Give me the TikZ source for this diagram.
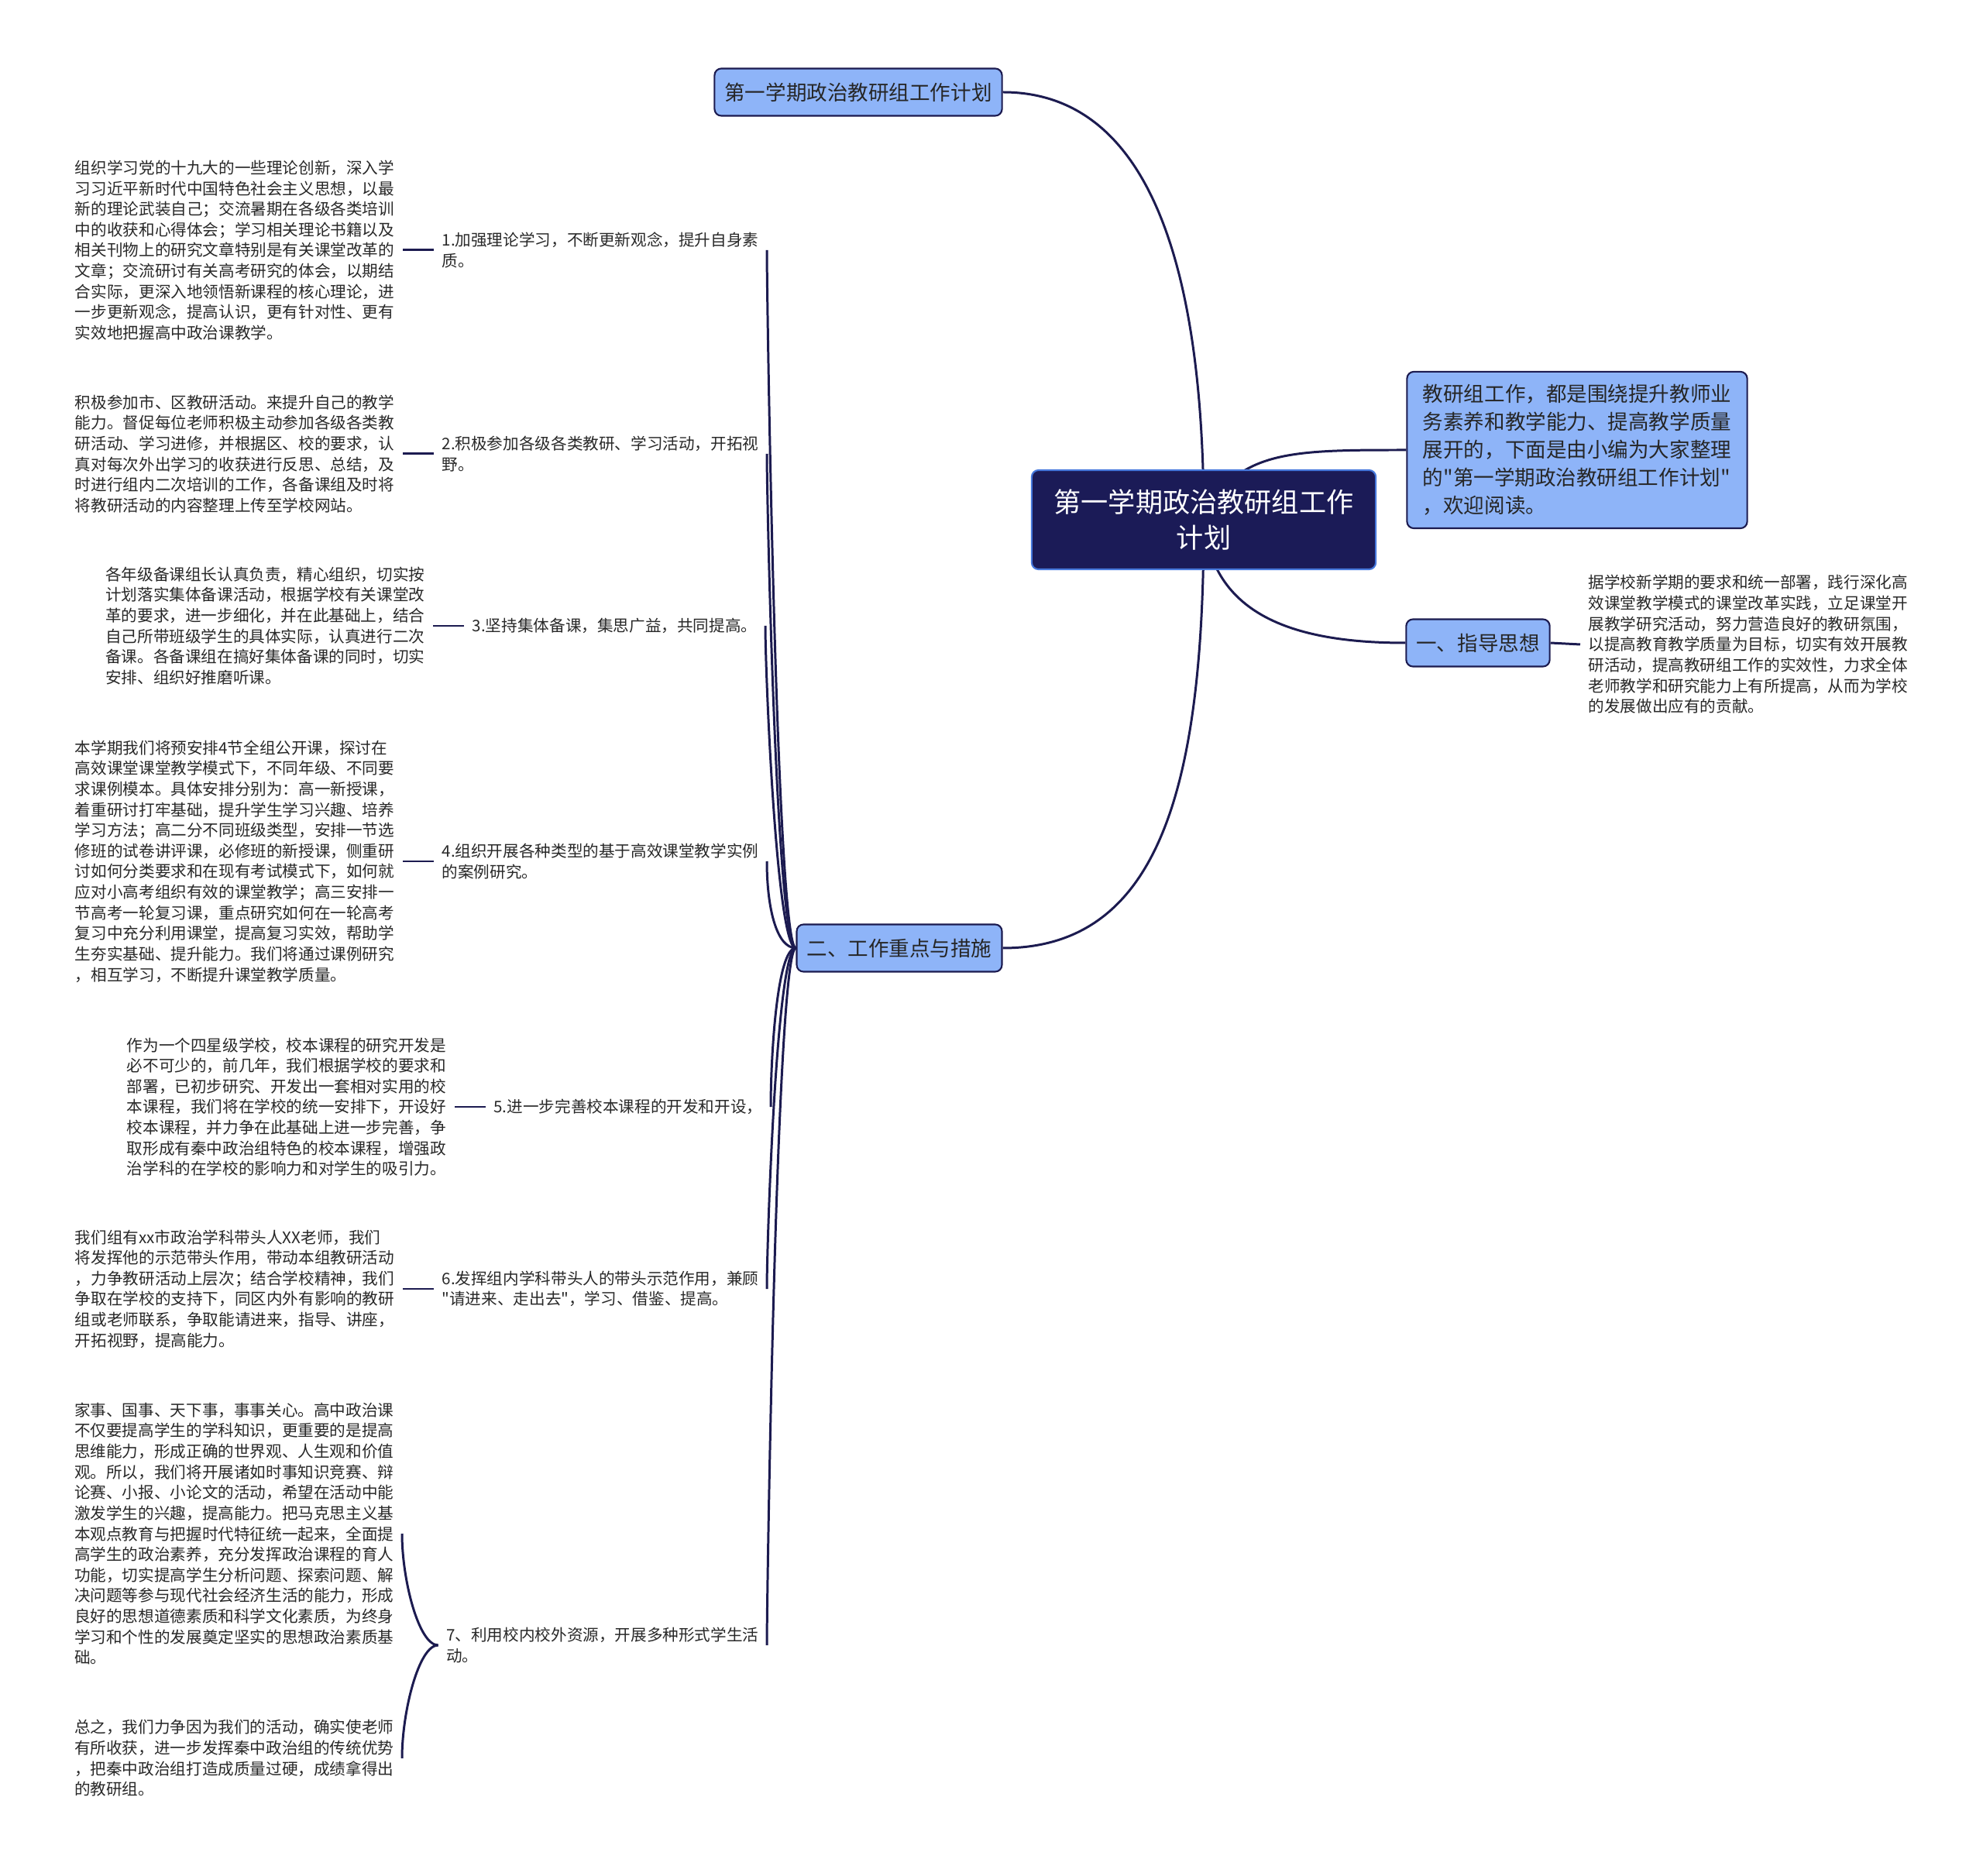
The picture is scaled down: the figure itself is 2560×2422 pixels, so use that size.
\documentclass[tikz,border=0pt]{standalone}
\usepackage{fontspec}
\setmainfont{Noto Sans CJK SC}[Ligatures=TeXOff]
\usetikzlibrary{positioning,backgrounds}

\definecolor{linenavy}{RGB}{28,27,80}
\definecolor{rootfill}{RGB}{27,27,87}
\definecolor{rootedge}{RGB}{70,120,220}
\definecolor{boxblue}{RGB}{142,180,248}
\definecolor{leafgray}{RGB}{40,40,40}

\tikzset{
  rootbox/.style = {draw=rootedge, fill=rootfill, text=white,
                    rounded corners=2.5pt, line width=0.6pt, align=center,
                    minimum width=4.44cm, minimum height=1.28cm,
                    font=\fontsize{10}{13}\selectfont},
  topicbox/.style = {draw=linenavy, fill=boxblue, text=black!85,
                     rounded corners=2.5pt, line width=0.6pt,
                     inner xsep=0.13cm, minimum height=0.61cm,
                     font=\fontsize{7.55}{10.2}\selectfont},
  leaftext/.style = {align=left, text=leafgray, inner sep=0.1cm,
                     font=\fontsize{5.86}{7.57}\selectfont},
  branch/.style = {draw=linenavy, line width=0.85pt}
}

\begin{document}
\begin{tikzpicture}[x=0.01cm, y=-0.01cm]
    \useasboundingbox (0,0) rectangle (2560,2422);
    % centre and first level
    \node[rootbox] (root) at (1554,671) {第一学期政治教研组工作\\计划};
    \node[topicbox] (top) at (1108,119) {第一学期政治教研组工作计划};
    \node[topicbox, align=left, minimum width=4.39cm, minimum height=2.02cm]
        (intro) at (2036,581)
        {教研组工作，都是围绕提升教师业\\务素养和教学能力、提高教学质量\\展开的，下面是由小编为大家整理\\的"第一学期政治教研组工作计划"\\，欢迎阅读。};
    \node[topicbox, minimum width=1.84cm] (guide) at (1908,830) {一、指导思想};
    \node[topicbox, minimum width=2.64cm] (work) at (1161,1224) {二、工作重点与措施};
    \node[leaftext, anchor=west] (guidetxt) at (2040,832)
        {据学校新学期的要求和统一部署，践行深化高\\效课堂教学模式的课堂改革实践，立足课堂开\\展教学研究活动，努力营造良好的教研氛围，\\以提高教育教学质量为目标，切实有效开展教\\研活动，提高教研组工作的实效性，力求全体\\老师教学和研究能力上有所提高，从而为学校\\的发展做出应有的贡献。};
    % measures
    \node[leaftext, anchor=east] (l1) at (990,323) {1.加强理论学习，不断更新观念，提升自身素\\质。};
    \node[leaftext, anchor=east] (l2) at (990,586) {2.积极参加各级各类教研、学习活动，开拓视\\野。};
    \node[leaftext, anchor=east] (l3) at (988,808) {3.坚持集体备课，集思广益，共同提高。};
    \node[leaftext, anchor=east] (l4) at (990,1112) {4.组织开展各种类型的基于高效课堂教学实例\\的案例研究。};
    \node[leaftext, anchor=east] (l5) at (995,1429) {5.进一步完善校本课程的开发和开设，};
    \node[leaftext, anchor=east] (l6) at (990,1664) {6.发挥组内学科带头人的带头示范作用，兼顾\\"请进来、走出去"，学习、借鉴、提高。};
    \node[leaftext, anchor=east] (l7) at (990,2124) {7、利用校内校外资源，开展多种形式学生活\\动。};
    % details
    \node[leaftext, left=0.4cm of l1] (t1)
        {组织学习党的十九大的一些理论创新，深入学\\习习近平新时代中国特色社会主义思想，以最\\新的理论武装自己；交流暑期在各级各类培训\\中的收获和心得体会；学习相关理论书籍以及\\相关刊物上的研究文章特别是有关课堂改革的\\文章；交流研讨有关高考研究的体会，以期结\\合实际，更深入地领悟新课程的核心理论，进\\一步更新观念，提高认识，更有针对性、更有\\实效地把握高中政治课教学。};
    \node[leaftext, left=0.4cm of l2] (t2)
        {积极参加市、区教研活动。来提升自己的教学\\能力。督促每位老师积极主动参加各级各类教\\研活动、学习进修，并根据区、校的要求，认\\真对每次外出学习的收获进行反思、总结，及\\时进行组内二次培训的工作，各备课组及时将\\将教研活动的内容整理上传至学校网站。};
    \node[leaftext, left=0.4cm of l3] (t3)
        {各年级备课组长认真负责，精心组织，切实按\\计划落实集体备课活动，根据学校有关课堂改\\革的要求，进一步细化，并在此基础上，结合\\自己所带班级学生的具体实际，认真进行二次\\备课。各备课组在搞好集体备课的同时，切实\\安排、组织好推磨听课。};
    \node[leaftext, left=0.4cm of l4] (t4)
        {本学期我们将预安排4节全组公开课，探讨在\\高效课堂课堂教学模式下，不同年级、不同要\\求课例模本。具体安排分别为：高一新授课，\\着重研讨打牢基础，提升学生学习兴趣、培养\\学习方法；高二分不同班级类型，安排一节选\\修班的试卷讲评课，必修班的新授课，侧重研\\讨如何分类要求和在现有考试模式下，如何就\\应对小高考组织有效的课堂教学；高三安排一\\节高考一轮复习课，重点研究如何在一轮高考\\复习中充分利用课堂，提高复习实效，帮助学\\生夯实基础、提升能力。我们将通过课例研究\\，相互学习，不断提升课堂教学质量。};
    \node[leaftext, left=0.4cm of l5] (t5)
        {作为一个四星级学校，校本课程的研究开发是\\必不可少的，前几年，我们根据学校的要求和\\部署，已初步研究、开发出一套相对实用的校\\本课程，我们将在学校的统一安排下，开设好\\校本课程，并力争在此基础上进一步完善，争\\取形成有秦中政治组特色的校本课程，增强政\\治学科的在学校的影响力和对学生的吸引力。};
    \node[leaftext, left=0.4cm of l6] (t6)
        {我们组有xx市政治学科带头人XX老师，我们\\将发挥他的示范带头作用，带动本组教研活动\\，力争教研活动上层次；结合学校精神，我们\\争取在学校的支持下，同区内外有影响的教研\\组或老师联系，争取能请进来，指导、讲座，\\开拓视野，提高能力。};
    \node[leaftext, anchor=east] (t7a) at (519,1980)
        {家事、国事、天下事，事事关心。高中政治课\\不仅要提高学生的学科知识，更重要的是提高\\思维能力，形成正确的世界观、人生观和价值\\观。所以，我们将开展诸如时事知识竞赛、辩\\论赛、小报、小论文的活动，希望在活动中能\\激发学生的兴趣，提高能力。把马克思主义基\\本观点教育与把握时代特征统一起来，全面提\\高学生的政治素养，充分发挥政治课程的育人\\功能，切实提高学生分析问题、探索问题、解\\决问题等参与现代社会经济生活的能力，形成\\良好的思想道德素质和科学文化素质，为终身\\学习和个性的发展奠定坚实的思想政治素质基\\础。};
    \node[leaftext, anchor=east] (t7b) at (519,2270)
        {总之，我们力争因为我们的活动，确实使老师\\有所收获，进一步发挥秦中政治组的传统优势\\，把秦中政治组打造成质量过硬，成绩拿得出\\的教研组。};
    % connectors
    \begin{scope}[on background layer]
        \draw[branch] (root.center) .. controls +(0,-300) and +(200,0) .. (top.east);
        \draw[branch] (root.center) .. controls +(40,-90) and +(-150,0) .. (intro.west);
        \draw[branch] (root.center) .. controls +(10,120) and +(-150,0) .. (guide.west);
        \draw[branch] (root.center) .. controls +(0,350) and +(200,0) .. (work.east);
        \draw[branch] (guide.east) -- (guidetxt.west);
        \draw[branch] (work.west) .. controls +(-25,0) and +(0,60) .. (l1.east);
        \draw[branch] (work.west) .. controls +(-25,0) and +(0,60) .. (l2.east);
        \draw[branch] (work.west) .. controls +(-25,0) and +(0,60) .. (l3.east);
        \draw[branch] (work.west) .. controls +(-25,0) and +(0,60) .. (l4.east);
        \draw[branch] (work.west) .. controls +(-25,0) and +(0,-60) .. (l5.east);
        \draw[branch] (work.west) .. controls +(-25,0) and +(0,-60) .. (l6.east);
        \draw[branch] (work.west) .. controls +(-25,0) and +(0,-60) .. (l7.east);
        \draw[branch] (l1.west) -- (t1.east);
        \draw[branch] (l2.west) -- (t2.east);
        \draw[branch] (l3.west) -- (t3.east);
        \draw[branch] (l4.west) -- (t4.east);
        \draw[branch] (l5.west) -- (t5.east);
        \draw[branch] (l6.west) -- (t6.east);
        \draw[branch] (l7.west) .. controls +(-25,0) and +(0,60) .. (t7a.east);
        \draw[branch] (l7.west) .. controls +(-25,0) and +(0,-60) .. (t7b.east);
    \end{scope}
\end{tikzpicture}
\end{document}
